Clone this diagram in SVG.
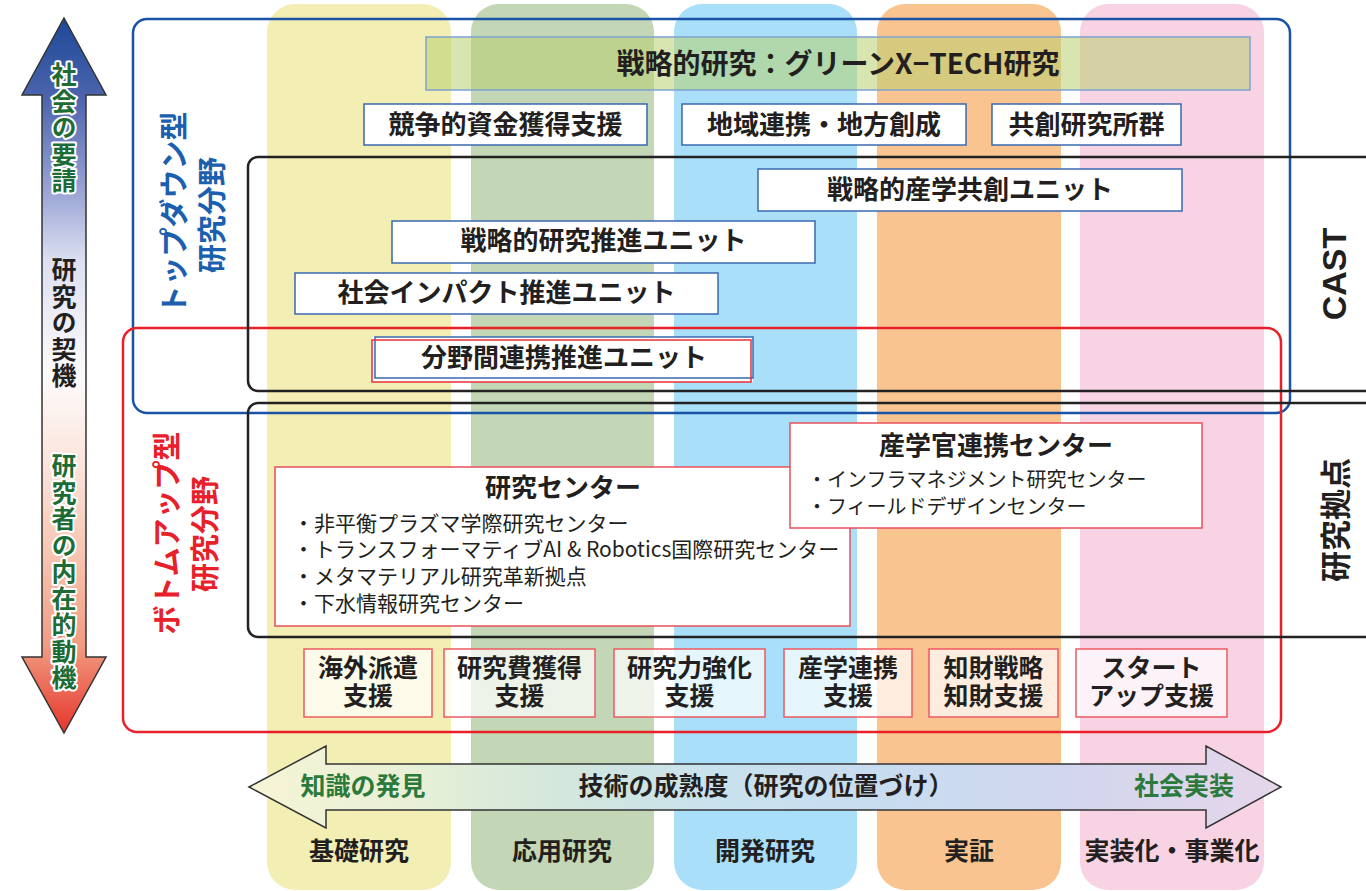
<svg xmlns="http://www.w3.org/2000/svg" width="1366" height="891" viewBox="0 0 1366 891">
<defs>
<linearGradient id="gV" x1="0" y1="18" x2="0" y2="733" gradientUnits="userSpaceOnUse">
<stop offset="0" stop-color="#1d4897"/>
<stop offset="0.11" stop-color="#4c64ad"/>
<stop offset="0.24" stop-color="#98a3d4"/>
<stop offset="0.34" stop-color="#dde0f1"/>
<stop offset="0.5" stop-color="#fdfbfb"/>
<stop offset="0.63" stop-color="#fbe3da"/>
<stop offset="0.76" stop-color="#f7c2ae"/>
<stop offset="0.88" stop-color="#f19a80"/>
<stop offset="1" stop-color="#e5352a"/>
</linearGradient>
<linearGradient id="gH" x1="249" y1="0" x2="1281" y2="0" gradientUnits="userSpaceOnUse">
<stop offset="0" stop-color="#f6f5d6"/>
<stop offset="0.15" stop-color="#e9f0d6"/>
<stop offset="0.3" stop-color="#d3e7dc"/>
<stop offset="0.45" stop-color="#c9e2ee"/>
<stop offset="0.62" stop-color="#c8dcf0"/>
<stop offset="0.8" stop-color="#d2d6ee"/>
<stop offset="1" stop-color="#e6d6ea"/>
</linearGradient>
<style>
text { font-family: "Noto Sans CJK JP", "Noto Sans CJK SC", sans-serif; fill: #231f20; }
.box { font-size: 26px; font-weight: 700; text-anchor: middle; }
.sbox { font-size: 25px; font-weight: 700; text-anchor: middle; }
.bluebox { fill: #fff; stroke: #3a68b0; stroke-width: 1.5; }
.redbox { fill: #fff; stroke: #e8505a; stroke-width: 1.5; }
.sup { fill: #fff; fill-opacity: 0.7; stroke: #ec5b63; stroke-width: 1.5; }
.bul { font-size: 21px; }
.vt { writing-mode: vertical-rl; font-size: 25px; font-weight: 700; letter-spacing: 1.5px; }
.halo { paint-order: stroke; stroke: #fff; stroke-width: 4px; stroke-linejoin: round; fill: #1d6b35; }
.lab { font-size: 25px; font-weight: 700; text-anchor: middle; }
.rot { font-size: 29px; font-weight: 700; text-anchor: middle; dominant-baseline: central; }
.outline { fill: none; stroke-width: 2.5; }
</style>
</defs>

<rect width="1366" height="891" fill="#fff"/>

<g id="bands">
<g id="band-kiso"><rect x="267" y="4" width="184" height="886" rx="28" fill="#f3eeb3"/><text class="lab" x="359" y="860">基礎研究</text></g>
<g id="band-oyo"><rect x="471" y="4" width="183" height="886" rx="28" fill="#c3d6b5"/><text class="lab" x="562" y="860">応用研究</text></g>
<g id="band-kaihatsu"><rect x="674" y="4" width="183" height="886" rx="28" fill="#a9dff8"/><text class="lab" x="765" y="860">開発研究</text></g>
<g id="band-jissho"><rect x="877" y="4" width="184" height="886" rx="28" fill="#fac490"/><text class="lab" x="969" y="860">実証</text></g>
<g id="band-jisso"><rect x="1080" y="4" width="184" height="886" rx="28" fill="#f8d3e4"/><text class="lab" x="1172" y="860">実装化・事業化</text></g>
</g>

<g id="topdown">
<rect class="outline" x="133" y="19" width="1157" height="394" rx="14" stroke="#1a52a6"/>
<text class="rot" transform="translate(172,213) rotate(-90)" style="fill:#1b5fae">トップダウン型</text>
<text class="rot" transform="translate(210,215) rotate(-90)" style="fill:#1b5fae">研究分野</text>
</g>

<g id="bottomup">
<rect class="outline" x="123" y="328" width="1158" height="404" rx="14" stroke="#e8202a" stroke-width="2"/>
<text class="rot" transform="translate(165,533) rotate(-90)" style="fill:#e8202a">ボトムアップ型</text>
<text class="rot" transform="translate(203,534) rotate(-90)" style="fill:#e8202a">研究分野</text>
</g>

<g id="cast">
<path class="outline" d="M1366,157 H258 A10,10 0 0 0 248,167 V381 A10,10 0 0 0 258,391 H1366" stroke="#222"/>
<text transform="translate(1334,274) rotate(-90)" text-anchor="middle" dominant-baseline="central" style="font-family:'Liberation Sans',Arial,sans-serif;font-size:34px;font-weight:700">CAST</text>
</g>

<g id="kyoten">
<path class="outline" d="M1366,403 H258 A10,10 0 0 0 248,413 V627 A10,10 0 0 0 258,637 H1366" stroke="#222"/>
<text class="rot" transform="translate(1333,520) rotate(-90)" style="font-size:31px">研究拠点</text>
</g>

<g id="green-xtech">
<rect x="426" y="37" width="824" height="53" fill="#b8d070" fill-opacity="0.55" stroke="#7fa3cf" stroke-width="1.5"/>
<text x="838" y="74" text-anchor="middle" style="font-size:28px;font-weight:700">戦略的研究：グリーンX−TECH研究</text>
</g>

<g id="kyoso-shikin"><rect class="bluebox" x="364" y="104" width="283" height="41"/><text class="box" x="505.5" y="134">競争的資金獲得支援</text></g>
<g id="chiiki"><rect class="bluebox" x="682" y="104" width="284" height="41"/><text class="box" x="824" y="134">地域連携・地方創成</text></g>
<g id="kyoso-kenkyujo"><rect class="bluebox" x="992" y="104" width="189" height="41"/><text class="box" x="1086.5" y="134">共創研究所群</text></g>

<g id="sangaku-unit"><rect class="bluebox" x="758" y="169" width="424" height="42"/><text class="box" x="970" y="199">戦略的産学共創ユニット</text></g>
<g id="senryaku-unit"><rect class="bluebox" x="392" y="221" width="423" height="42"/><text class="box" x="603.5" y="250">戦略的研究推進ユニット</text></g>
<g id="impact-unit"><rect class="bluebox" x="295" y="273" width="423" height="41"/><text class="box" x="506.5" y="302">社会インパクト推進ユニット</text></g>
<g id="bunya-unit">
<rect x="372" y="337" width="381" height="45" fill="#fff"/>
<rect x="375" y="337" width="378" height="41" fill="none" stroke="#3a68b0" stroke-width="1.5"/>
<rect x="372" y="340" width="379" height="42" fill="none" stroke="#e8303a" stroke-width="1.5"/>
<text class="box" x="564" y="367">分野間連携推進ユニット</text>
</g>

<g id="kenkyu-center">
<rect class="redbox" x="275" y="467" width="575" height="159"/>
<text class="box" x="563" y="497">研究センター</text>
<text class="bul" x="293" y="531">・非平衡プラズマ学際研究センター</text>
<text class="bul" x="293" y="557">・トランスフォーマティブAI &amp; Robotics国際研究センター</text>
<text class="bul" x="293" y="584">・メタマテリアル研究革新拠点</text>
<text class="bul" x="293" y="611">・下水情報研究センター</text>
</g>

<g id="sangakukan-center">
<rect class="redbox" x="790" y="423" width="412" height="105"/>
<text class="box" x="996" y="455">産学官連携センター</text>
<text class="bul" x="807" y="487" style="font-size:20px">・インフラマネジメント研究センター</text>
<text class="bul" x="807" y="514" style="font-size:20px">・フィールドデザインセンター</text>
</g>

<g id="support-kaigai"><rect class="sup" x="304" y="649" width="128" height="68"/><text class="sbox" x="368" y="677">海外派遣</text><text class="sbox" x="368" y="705">支援</text></g>
<g id="support-kenkyuhi"><rect class="sup" x="444" y="649" width="151" height="68"/><text class="sbox" x="519.5" y="677">研究費獲得</text><text class="sbox" x="519.5" y="705">支援</text></g>
<g id="support-kyoka"><rect class="sup" x="614" y="649" width="151" height="68"/><text class="sbox" x="689.5" y="677">研究力強化</text><text class="sbox" x="689.5" y="705">支援</text></g>
<g id="support-sangaku"><rect class="sup" x="784" y="649" width="128" height="68"/><text class="sbox" x="848" y="677">産学連携</text><text class="sbox" x="848" y="705">支援</text></g>
<g id="support-chizai"><rect class="sup" x="929" y="649" width="129" height="68"/><text class="sbox" x="993.5" y="677">知財戦略</text><text class="sbox" x="993.5" y="705">知財支援</text></g>
<g id="support-startup"><rect class="sup" x="1076" y="649" width="151" height="68"/><text class="sbox" x="1151.5" y="677">スタート</text><text class="sbox" x="1151.5" y="705">アップ支援</text></g>

<g id="connectors">
<g id="arrow-vertical">
<path d="M64,18 L106,95 L86,95 L86,657 L106,657 L64,733 L22,657 L42,657 L42,95 L22,95 Z" fill="url(#gV)" stroke="#333" stroke-width="1.5" stroke-linejoin="miter"/>
<text class="vt halo" x="64" y="62">社会の要請</text>
<text class="vt" x="64" y="257">研究の契機</text>
<text class="vt halo" x="64" y="453">研究者の内在的動機</text>
</g>
<g id="arrow-horizontal">
<path d="M249,787 L326,746 L326,764 L1206,764 L1206,746 L1281,787 L1206,828 L1206,810 L326,810 L326,828 Z" fill="url(#gH)" stroke="#333" stroke-width="1.5"/>
<text class="lab" x="363" y="795" style="fill:#2b7a3c">知識の発見</text>
<text class="lab" x="766" y="795">技術の成熟度（研究の位置づけ）</text>
<text class="lab" x="1184" y="795" style="fill:#2b7a3c">社会実装</text>
</g>
</g>
</svg>
